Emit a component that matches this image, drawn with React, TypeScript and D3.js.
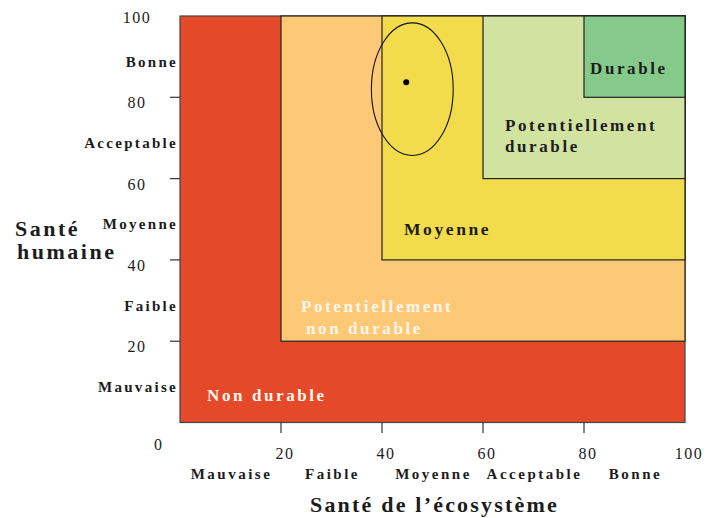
import React from 'react';
import * as d3 from 'd3';

// zones: each one covers [start, 100] on both axes
const zoneNames = ['Non durable', 'Potentiellement non durable', 'Moyenne', 'Potentiellement durable', 'Durable'];
const zoneStart = [0, 20, 40, 60, 80];

// qualitative levels (same on both axes)
const levelLabels = ['Mauvaise', 'Faible', 'Moyenne', 'Acceptable', 'Bonne'];
const tickValues = [20, 40, 60, 80];
const xTickLabels = [20, 40, 60, 80, 100];
const yTickLabels = [20, 40, 60, 80, 100];

// assessed point and its uncertainty ellipse
const pointEco = [44.8];
const pointHum = [83.7];
const ellipseCenter = [46, 82];
const ellipseRadius = [8.1, 16.3];

const zoneColors = ['#e44a2a', '#fdc976', '#f2dc4b', '#d1e2a1', '#86ca8b'];
const zoneTextColors = ['#fff6ec', '#fff6ec', '#1c1c1c', '#1c1c1c', '#1c1c1c'];
// pixel offsets of first label line from the zone's lower-left corner
const labelDx = [27, 20, 22, 22, 6];
const labelDy = [-21.5, -29, -25, -48, -23];
const secondLineIndent = [0, 5, 0, 0, 0];

const W = 717;
const H = 518;
const margin = { top: 16, right: 32, bottom: 95.5, left: 180 };
const serif = '"Liberation Serif", "Times New Roman", serif';
const ink = '#1c1c1c';

export default function App() {
  const x = d3.scaleLinear().domain([0, 100]).range([margin.left, W - margin.right]);
  const y = d3.scaleLinear().domain([0, 100]).range([H - margin.bottom, margin.top]);

  const splitName = (name: string) =>
    name.startsWith('Potentiellement ') ? ['Potentiellement', name.slice(16)] : [name];

  const bins = levelLabels.map((l, i) => ({ label: l, mid: i * 20 + 10 }));

  return (
    <svg width={W} height={H} style={{ position: 'absolute', left: 0, top: 0, background: '#fff' }}
      fontFamily={serif}>
      {/* zones */}
      {zoneStart.map((s, i) => (
        <rect key={zoneNames[i]}
          x={x(s)} y={y(100)} width={x(100) - x(s)} height={y(s) - y(100)}
          fill={zoneColors[i]} stroke={i === 0 ? '#444' : '#222'} strokeWidth={1.2} />
      ))}

      {/* zone labels */}
      {zoneStart.map((s, i) => (
        <text key={'lab' + i} fontWeight="bold" fontSize={i === 2 ? 17.5 : 17} letterSpacing={2.6}
          fill={zoneTextColors[i]}>
          {splitName(zoneNames[i]).map((line, j) => (
            <tspan key={j} x={x(s) + labelDx[i] + (j > 0 ? secondLineIndent[i] : 0)}
              y={y(s) + labelDy[i] + j * 21.5}>{line}</tspan>
          ))}
        </text>
      ))}

      {/* uncertainty ellipse and point */}
      <ellipse cx={x(ellipseCenter[0])} cy={y(ellipseCenter[1])}
        rx={x(ellipseRadius[0]) - x(0)} ry={y(0) - y(ellipseRadius[1])}
        fill="none" stroke="#111" strokeWidth={1.1} />
      {pointEco.map((v, i) => (
        <circle key={'pt' + i} cx={x(v)} cy={y(pointHum[i])} r={3} fill="#000" />
      ))}

      {/* y axis ticks */}
      {tickValues.map(t => (
        <line key={'yt' + t} x1={x(0) - 10} x2={x(0)} y1={y(t)} y2={y(t)} stroke="#333" strokeWidth={1.2} />
      ))}
      {yTickLabels.map(t => (
        <text key={'yl' + t} x={137} y={y(t) + (t === 100 ? 1.5 : 5.5)} textAnchor="middle"
          dominantBaseline="central" fontSize={16} letterSpacing={1.5} fill={ink}>{t}</text>
      ))}
      <text x={x(0) - 22} y={y(0) + 27} textAnchor="middle" fontSize={16} fill={ink}>0</text>

      {/* x axis ticks */}
      {tickValues.map(t => (
        <line key={'xt' + t} x1={x(t)} x2={x(t)} y1={y(0)} y2={y(0) + 10.5} stroke="#333" strokeWidth={1.2} />
      ))}
      {xTickLabels.map(t => (
        <text key={'xl' + t} x={x(t) + 4} y={y(0) + 36} textAnchor="middle"
          fontSize={16} letterSpacing={1.5} fill={ink}>{t}</text>
      ))}

      {/* level labels */}
      {bins.map(b => (
        <text key={'xb' + b.label} x={x(b.mid) + 1} y={y(0) + 56} textAnchor="middle"
          fontWeight="bold" fontSize={15} letterSpacing={2.5} fill={ink}>{b.label}</text>
      ))}
      {bins.map(b => (
        <text key={'yb' + b.label} x={x(0) - 2} y={y(b.mid) + 5} textAnchor="end" dominantBaseline="central"
          fontWeight="bold" fontSize={15} letterSpacing={2.3} fill={ink}>{b.label}</text>
      ))}

      {/* axis titles */}
      <text fontWeight="bold" fontSize={22} letterSpacing={2.5} fill={ink}>
        <tspan x={15} y={236}>Santé</tspan>
        <tspan x={17} y={259}>humaine</tspan>
      </text>
      <text x={(x(0) + x(100)) / 2 + 2} y={512} textAnchor="middle" fontWeight="bold" fontSize={22}
        letterSpacing={2.2} fill={ink}>Santé de l’écosystème</text>
    </svg>
  );
}
